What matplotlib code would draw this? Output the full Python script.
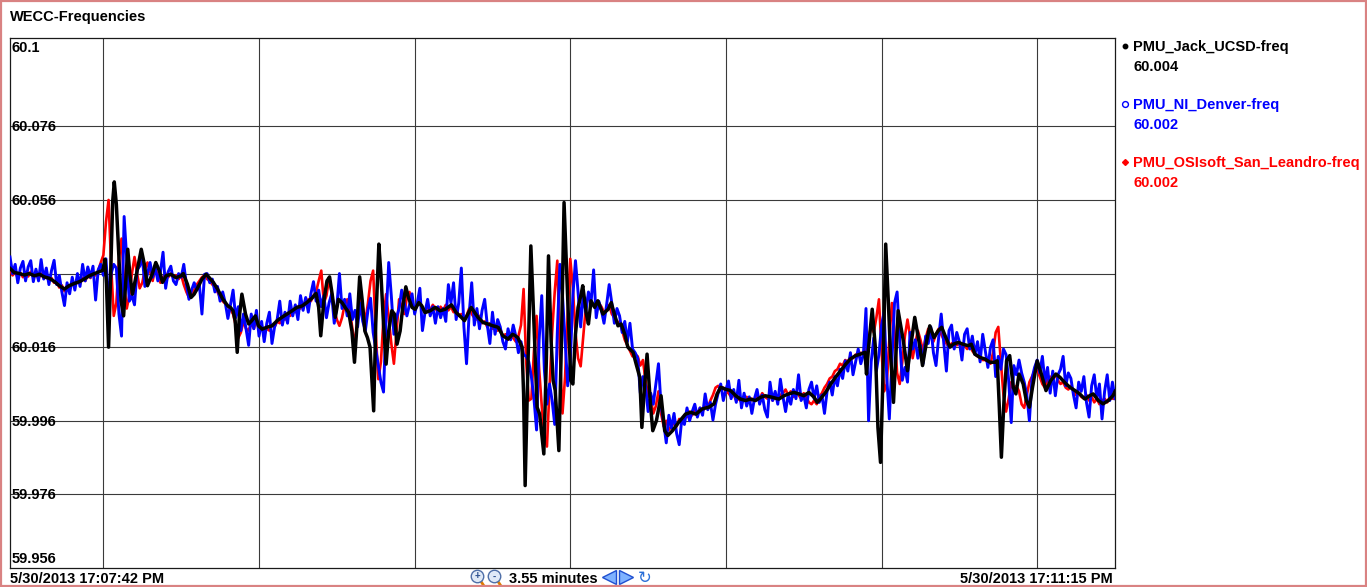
import numpy as np
import matplotlib
matplotlib.use("Agg")
import matplotlib.pyplot as plt
from matplotlib.patches import Rectangle
from matplotlib.transforms import blended_transform_factory

plt.rcParams['font.family'] = ['Liberation Sans', 'DejaVu Sans']

# ---------------------------------------------------------------------------
# Data: seconds after 17:07:42, frequency deviation from 60 Hz in mHz
# ---------------------------------------------------------------------------
T_START = "5/30/2013 17:07:42 PM"
T_END = "5/30/2013 17:11:15 PM"
SPAN_S = 213.0
SPAN_LABEL = "3.55 minutes"
TITLE = "WECC-Frequencies"

series_names = ["PMU_Jack_UCSD-freq", "PMU_NI_Denver-freq", "PMU_OSIsoft_San_Leandro-freq"]
series_colors = ["#000000", "#0000ff", "#ff0000"]

y_ticks = [60.1, 60.076, 60.056, 60.016, 59.996, 59.976, 59.956]
y_grid = [60.076, 60.056, 60.036, 60.016, 59.996, 59.976]
x_grid_s = [18, 48, 78, 108, 138, 168, 198]
y_min, y_max = 59.956, 60.1

# PMU_Jack_UCSD (time s, deviation mHz)
jack = [
    (0.0, 37.4), (0.8, 36.3), (1.8, 36.0), (2.8, 35.6), (3.7, 36.0), (4.7, 35.4), (5.7, 35.8),
    (6.6, 35.1), (7.6, 34.7), (8.6, 33.8), (9.5, 32.7), (10.5, 31.8), (11.4, 32.7), (12.4, 33.3),
    (13.4, 33.8), (14.3, 34.5), (15.3, 35.4), (16.3, 36.0), (17.2, 36.5), (17.9, 36.9), (18.3, 39.9),
    (18.6, 33.1), (19.0, 16.0), (19.4, 35.8), (19.8, 55.7), (20.1, 60.9), (20.5, 54.8), (21.0, 40.3),
    (21.4, 28.6), (21.9, 24.5), (22.2, 31.3), (22.7, 42.6), (23.1, 35.8), (23.6, 30.4), (24.5, 36.7),
    (25.3, 42.6), (25.9, 38.5), (26.5, 32.7), (27.4, 35.8), (28.1, 39.0), (28.8, 36.7), (29.4, 33.6),
    (30.1, 35.4), (31.0, 35.8), (32.0, 34.9), (33.0, 35.4), (33.4, 36.0), (34.2, 33.1), (34.9, 29.5),
    (35.5, 30.4), (36.2, 32.2), (37.0, 34.5), (37.8, 35.8), (38.4, 34.9), (39.2, 33.6), (40.0, 31.8),
    (41.0, 29.1), (42.0, 27.2), (42.5, 26.8),
    (43.0, 25.9), (43.4, 23.2), (43.8, 14.6), (44.2, 24.1), (44.7, 30.4), (45.4, 25.0), (46.0, 22.3),
    (46.6, 23.2), (47.3, 24.5), (47.9, 21.8), (48.6, 20.9), (49.5, 21.4), (50.5, 21.8), (51.5, 23.2),
    (52.4, 24.1), (53.4, 25.0), (54.4, 25.9), (55.3, 26.8), (56.3, 27.2), (57.2, 28.1), (58.2, 29.3),
    (59.0, 30.6), (59.5, 26.8), (59.9, 19.1), (60.5, 28.6), (61.1, 34.0), (61.6, 35.1), (62.1, 30.4),
    (62.7, 24.1), (63.3, 29.0), (64.0, 28.1), (64.6, 26.8), (65.3, 25.4), (65.9, 20.4), (66.4, 11.9),
    (66.9, 22.3), (67.4, 35.1), (67.9, 28.6), (68.4, 20.4), (68.9, 18.6), (69.4, 16.0), (70.1, -1.3),
    (70.5, 22.3), (71.1, 44.0), (71.5, 35.8), (72.0, 22.3), (72.5, 11.4), (73.0, 20.4), (73.6, 25.9),
    (74.1, 25.0), (74.6, 16.8), (75.2, 20.4), (75.7, 26.8), (76.3, 32.4), (76.8, 29.5), (77.5, 26.8),
    (78.1, 26.3), (78.8, 28.1), (79.4, 27.2), (80.0, 25.4), (81.0, 25.9), (82.0, 26.8), (82.9, 25.9),
    (83.9, 26.3), (85.1, 27.5),
    (86.0, 25.4), (87.0, 24.1), (87.6, 23.2), (88.9, 26.8), (90.2, 24.1), (91.2, 22.7), (92.1, 22.3),
    (93.1, 21.8), (94.1, 21.4), (95.0, 19.1), (96.0, 18.2), (96.9, 19.5), (97.9, 18.6), (98.7, 16.0),
    (99.0, 3.3), (99.3, -21.6), (99.8, 8.7), (100.4, 43.5), (101.0, 22.3), (101.6, -0.3), (102.1, -2.2),
    (102.9, -13.0), (103.4, 13.2), (103.8, 40.8), (104.3, 17.7), (104.7, 6.9), (105.1, 4.2),
    (105.8, -12.1), (106.3, 17.7), (106.8, 55.3), (107.2, 40.3), (107.6, 25.0), (108.1, 6.9),
    (108.5, 6.0), (109.0, 19.5), (109.5, 26.8), (110.1, 30.4), (110.4, 32.7), (111.1, 25.0),
    (111.5, 22.3), (112.0, 28.6), (112.7, 26.8), (113.3, 28.6), (114.3, 25.0), (115.3, 26.3),
    (115.9, 28.1), (116.5, 25.0), (117.2, 21.8), (117.8, 22.3), (118.5, 19.5), (119.1, 16.0),
    (120.1, 14.6), (120.7, 11.4), (121.4, 7.8), (121.8, -5.8), (122.3, 5.1), (122.8, 14.1),
    (123.5, -0.3), (123.9, -6.7), (124.6, -4.0), (125.5, 2.8), (126.2, -6.7), (126.8, -8.0),
    (127.7, -6.7),
    (128.9, -4.4), (130.2, -2.2), (131.2, -1.7), (132.2, -2.2), (133.4, -0.8), (134.7, -0.3),
    (135.7, 0.6), (136.3, 3.3), (137.0, 5.1), (137.9, 4.6), (138.9, 4.2), (139.9, 2.8), (140.8, 1.9),
    (141.8, 1.5), (142.7, 1.9), (143.7, 1.5), (144.7, 2.4), (145.6, 2.8), (146.9, 2.4), (148.2, 1.9),
    (149.2, 2.8), (150.1, 3.3), (151.1, 3.7), (152.1, 3.3), (153.0, 2.8), (154.0, 3.7), (155.0, 2.4),
    (155.6, 1.0), (156.2, 1.9), (157.2, 3.7), (158.2, 6.0), (159.1, 7.8), (160.1, 9.6), (161.1, 11.4),
    (162.0, 12.8), (163.0, 13.7), (163.9, 14.1), (164.8, 14.6), (165.1, 8.7), (165.5, 16.0),
    (166.2, 26.3), (166.8, 16.0), (167.3, -5.8), (167.8, -15.3), (168.2, 4.2), (168.8, 44.0),
    (169.3, 28.6), (169.7, 15.0), (170.3, 1.0),
    (171.2, 25.9), (172.2, 17.7), (173.0, 9.6), (173.6, 16.0), (174.4, 24.1), (175.3, 16.8),
    (175.9, 11.0), (176.7, 17.7), (177.3, 21.8), (178.1, 18.6), (178.9, 20.4), (179.6, 21.4),
    (180.4, 18.6), (181.2, 16.0), (181.8, 16.8), (182.8, 17.3), (183.7, 16.8), (184.7, 16.4),
    (185.3, 16.8), (186.0, 14.1), (187.0, 13.2), (187.9, 12.8), (188.9, 11.9), (189.8, 11.9),
    (190.3, 12.3), (190.7, -0.3), (191.1, -13.9), (191.6, 1.5), (192.1, 12.3), (192.7, 13.7),
    (193.4, 5.1), (193.9, 3.3), (194.5, 8.7), (195.3, 6.0), (195.9, 1.5), (196.5, -0.3), (197.1, 5.1),
    (198.0, 12.3), (198.8, 8.7), (199.7, 4.2), (200.6, 6.9), (201.6, 8.7), (202.4, 7.8), (203.3, 6.4),
    (204.3, 5.1), (205.3, 4.2), (206.2, 3.3), (207.2, 1.9), (208.1, 2.8), (208.8, 3.3), (209.8, 1.5),
    (210.7, 0.6), (211.7, 1.5), (212.6, 2.8), (213.0, 4.0),
]

# PMU_NI_Denver, one sample every 0.5 s (mHz)
denver = [
    40.5, 36.0, 38.5, 33.5, 37.5, 39.3, 34.0, 37.8, 39.5, 33.8,
    37.2, 34.0, 39.8, 34.5, 37.5, 33.0, 36.8, 39.6, 33.0, 35.5,
    31.0, 27.3, 33.5, 30.5, 35.0, 31.5, 36.0, 32.5, 38.5, 34.0,
    37.8, 35.0, 38.0, 28.8, 37.0, 38.5, 35.5, 40.0, 29.0, 36.0,
    38.5, 37.5, 25.0, 19.0, 51.5, 40.0, 28.5, 30.0, 27.5, 37.0,
    38.0, 40.5, 32.5, 36.0, 39.0, 35.0, 37.5, 34.0, 36.5, 41.8,
    32.0, 36.5, 38.0, 34.0, 33.0, 36.0, 35.0, 38.5, 33.0, 29.0,
    31.5, 33.5, 31.5, 33.0, 25.0, 35.8, 36.0, 33.5, 34.5, 31.0,
    32.5, 28.5, 31.0, 28.0, 23.8, 27.5,
    31.5, 24.0, 27.0, 20.5, 25.0, 21.0, 16.5, 25.0, 21.0, 26.0,
    19.0, 23.0, 17.5, 22.5, 25.5, 17.0, 21.5, 23.5, 28.5, 22.0,
    25.5, 22.5, 28.5, 24.5, 27.5, 23.5, 30.0, 26.0, 29.5, 25.5,
    30.5, 33.8, 28.5, 31.5, 27.0, 30.0, 24.0, 28.0, 30.5, 22.5,
    27.0, 36.0, 26.5, 29.0, 24.5, 30.5, 23.5, 26.0, 21.5, 28.0,
    23.0, 20.5, 26.0, 29.3, 20.0, 15.5, 11.0, 6.5, 3.8, 24.0,
    39.0, 30.0, 19.5, 24.0, 26.5, 31.5, 28.0, 24.5, 27.5, 30.5,
    25.0, 28.0, 32.0, 20.5, 25.5, 29.0, 24.5, 27.0, 22.5, 27.0,
    24.0, 26.5, 23.0, 33.0, 28.0,
    33.5, 23.5, 28.0, 37.5, 21.5, 11.5, 25.0, 33.5, 22.0, 26.5,
    21.0, 26.0, 29.0, 22.0, 17.0, 25.5, 19.5, 23.5, 21.5, 17.5,
    15.5, 21.0, 18.0, 22.0, 19.0, 14.5, 17.5, 14.0, 13.5, 12.0,
    8.0, 2.0, -6.5, 18.0, 30.0, 10.0, 0.5, 6.0, 1.5, -5.0,
    20.0, 38.5, 30.0, 18.0, 5.5, 12.0, 30.0, 39.5, 31.0, 21.5,
    30.5, 25.5, 31.0, 28.0, 37.0, 24.0, 28.5, 26.0, 22.5, 27.5,
    33.0, 28.0, 22.5, 26.5, 24.5, 20.0, 23.0, 17.5, 22.5, 15.5,
    14.5, 13.0, 3.5, 8.0, 5.5, -1.5, 3.5, 0.5, 6.0, 11.5,
    0.0, -4.5, -10.0, -2.5, -6.0,
    -2.0, -7.5, -10.5, -3.5, -5.0, -0.5, -4.0, -1.5, 0.5, -3.0,
    -0.5, -2.5, 3.3, -1.0, 1.0, -3.8, 0.5, 3.5, 6.0, 1.5,
    4.5, 6.8, 2.0, 4.5, 1.0, 7.0, -0.5, 3.5, 0.0, 2.5,
    -2.0, 2.0, 4.5, 0.5, 3.0, -1.0, -3.0, 6.5, 1.5, 4.0,
    0.5, 7.3, 2.5, -1.5, 3.0, 0.5, 4.5, 2.0, 8.5, 1.5,
    3.0, -0.5, 4.5, 6.5, 2.0, 5.5, 1.0, 3.0, -2.0, 4.0,
    6.5, 3.0, 8.0, 5.5, 10.0, 7.5, 12.3, 9.5, 14.5, 8.5,
    12.0, 15.5, 11.5, 14.0, 26.5, -4.0, 12.0, 18.5, 9.5, 14.0,
    22.0, 25.5, 8.0, -3.5, 12.0,
    28.0, 31.0, 18.0, 7.0, 10.5, 6.5, 20.0, 15.5, 18.0, 13.0,
    16.5, 11.5, 19.0, 17.0, 21.5, 14.5, 11.0, 18.5, 25.0, 17.0,
    9.5, 20.5, 22.0, 15.5, 20.0, 17.5, 12.5, 19.5, 21.0, 15.5,
    19.0, 14.0, 17.5, 12.0, 19.5, 15.0, 10.5, 16.0, 18.0, 8.0,
    13.5, 10.0, 15.5, 14.0, 7.0, -4.5, 11.0, 8.5, 12.5, 9.0,
    6.5, 3.0, -4.0, 7.5, 10.5, 12.5, 9.0, 13.5, 6.5, 10.5,
    3.5, 9.5, 2.8, 8.5, 10.0, 13.5, 5.5, 9.0, 7.5, 3.0,
    -0.5, 6.5, 4.0, 8.0, 1.0, -3.0, 5.5, 8.5, 2.0, 6.0,
    -3.5, 4.0, 8.5, 1.5, 6.5, 2.0,
]

# PMU_OSIsoft_San_Leandro, one sample every 0.5 s (mHz)
san_leandro = [
    37.0, 35.5, 36.5, 34.8, 36.2, 35.0, 36.4, 35.2, 36.5, 35.0,
    35.8, 34.6, 36.0, 34.8, 35.5, 34.0, 34.8, 33.5, 33.8, 32.2,
    32.8, 31.2, 32.5, 31.8, 33.5, 32.6, 34.0, 33.2, 34.8, 34.0,
    35.5, 34.8, 36.2, 35.5, 36.8, 39.0, 41.0, 50.0, 56.0, 38.0,
    24.5, 28.0, 40.0, 45.5, 33.0, 26.5, 30.0, 36.0, 40.5, 36.0,
    32.0, 33.5, 37.0, 39.0, 36.5, 34.0, 37.5, 35.5, 33.5, 35.0,
    36.0, 35.0, 36.0, 34.8, 35.5, 34.5, 35.6, 33.0, 31.0, 29.5,
    30.5, 31.5, 33.0, 34.0, 35.0, 35.5, 34.5, 34.0, 33.0, 32.5,
    31.0, 29.5, 28.5, 27.8, 27.0, 26.2,
    25.0, 22.0, 18.5, 20.0, 23.0, 21.0, 20.5, 22.5, 21.0, 23.5,
    20.5, 21.5, 20.0, 21.0, 20.5, 22.0, 21.5, 23.0, 22.5, 24.0,
    23.5, 25.0, 24.5, 26.0, 25.5, 27.0, 26.5, 28.0, 27.5, 29.0,
    28.5, 30.0, 31.0, 34.0, 36.8, 28.0, 30.0, 34.5, 31.0, 26.0,
    23.5, 21.8, 24.0, 27.5, 29.0, 26.0, 21.0, 16.5, 24.0, 30.5,
    27.0, 23.0, 28.0, 34.0, 36.8, 20.0, 7.3, 12.0, 24.0, 30.4,
    24.0, 17.0, 11.5, 20.0, 29.0, 27.0, 25.0, 29.5, 31.0, 28.0,
    26.0, 27.5, 28.5, 26.5, 25.5, 27.0, 26.0, 27.5, 26.5, 25.5,
    27.0, 26.0, 27.5, 26.0, 27.0,
    25.5, 26.5, 24.5, 25.0, 23.5, 24.5, 26.5, 25.0, 24.0, 23.5,
    24.5, 22.5, 23.0, 21.5, 22.5, 21.0, 22.0, 20.5, 21.0, 19.0,
    19.5, 18.0, 19.0, 18.5, 17.5, 19.0, 22.0, 31.8, 12.0, 1.5,
    2.0, 15.0, 24.5, 10.0, 0.0, -8.0, -11.0, 5.0, 20.0, 31.0,
    39.5, 14.0, -2.0, 8.0, 25.0, 40.0, 32.0, 20.0, 13.0, 10.8,
    19.0, 27.0, 30.0, 28.0, 27.5, 26.5, 28.0, 27.0, 25.5, 26.0,
    27.5, 25.0, 24.0, 22.5, 23.0, 20.5, 18.0, 16.5, 15.0, 13.5,
    14.0, 13.5, 11.0, 12.5, 7.0, 3.0, 2.0, -2.0, 0.0, 4.0,
    -2.0, -5.5, -4.0, -6.5, -5.5,
    -4.5, -5.5, -3.5, -4.5, -2.5, -3.0, -1.5, -2.5, -1.0, -2.0,
    -0.5, -1.5, 0.0, -0.5, 1.5, 3.0, 5.0, 5.5, 4.5, 5.0,
    4.0, 3.5, 2.5, 3.0, 1.5, 2.0, 1.0, 1.5, 2.5, 1.0,
    2.0, 1.5, 3.0, 2.0, 3.5, 2.5, 2.0, 3.0, 1.5, 2.5,
    1.5, 3.0, 3.5, 4.5, 3.0, 4.0, 2.5, 3.5, 3.0, 2.0,
    3.5, 2.5, 1.0, 0.5, 1.5, 0.5, 2.5, 3.5, 5.0, 6.0,
    7.5, 8.0, 9.5, 10.0, 11.5, 11.0, 12.5, 12.0, 13.5, 13.0,
    14.0, 13.5, 14.5, 14.0, 15.0, 18.0, 22.0, 20.0, 24.0, 29.0,
    15.0, 4.0, 6.0, 18.0, 28.0,
    20.0, 9.0, 6.0, 12.0, 19.0, 23.5, 19.0, 13.0, 17.0, 20.5,
    18.0, 15.0, 18.5, 21.0, 19.0, 17.5, 19.5, 21.0, 19.5, 18.0,
    17.0, 16.0, 17.0, 17.5, 16.5, 17.0, 16.0, 16.5, 15.5, 16.5,
    15.0, 14.0, 13.5, 13.0, 12.5, 12.5, 12.0, 11.5, 14.5, 20.0,
    21.5, 12.0, 3.0, -1.5, 2.0, 6.5, 4.0, 5.5, 4.0, 0.5,
    -0.5, 3.0, 6.5, 8.0, 9.5, 10.0, 8.0, 6.0, 5.0, 7.0,
    8.0, 7.5, 8.5, 7.0, 6.0, 6.5, 5.0, 4.5, 5.5, 4.0,
    3.0, 3.5, 2.5, 2.0, 3.0, 1.5, 2.5, 1.0, 2.0, 0.5,
    1.5, 2.0, 1.0, 2.5, 2.0, 2.0,
]

# ---------------------------------------------------------------------------
W, H = 1367, 587
fig = plt.figure(figsize=(W / 100, H / 100), dpi=100)
fig.patch.set_facecolor("white")

# plot frame: x 10..1115 px, y 38..568 px
ax = fig.add_axes([10 / W, (H - 568) / H, 1105 / W, 530 / H])
ax.set_xlim(0, SPAN_S)
ax.set_ylim(y_min, y_max)
ax.set_xticks([])
ax.set_yticks([])
for s in ax.spines.values():
    s.set_color("#1a1a1a")
    s.set_linewidth(0.9)

for g in y_grid:
    ax.axhline(g, color="#3a3a3a", lw=0.8, zorder=1)
for g in x_grid_s:
    ax.axvline(g, color="#3a3a3a", lw=0.8, zorder=1)

jt = np.array([p[0] for p in jack])
jf = 60.0 + np.array([p[1] for p in jack]) / 1000.0
dt = np.arange(len(denver)) * 0.5
df = 60.0 + np.array(denver) / 1000.0
st = np.arange(len(san_leandro)) * 0.5
sf = 60.0 + np.array(san_leandro) / 1000.0

ax.plot(st, sf, color=series_colors[2], lw=1.9, zorder=3, solid_joinstyle="round")
ax.plot(dt, df, color=series_colors[1], lw=2.1, zorder=4, solid_joinstyle="round")
ax.plot(jt, jf, color=series_colors[0], lw=2.5, zorder=5, solid_joinstyle="round")

# y labels drawn inside the frame
btf = blended_transform_factory(ax.transAxes, ax.transData)
lab_kw = dict(fontsize=10.5, fontweight="bold", color="black", transform=btf, zorder=2)
px_hz = (y_max - y_min) / 530.0
for v in y_ticks:
    txt = f"{v:g}"
    if v == y_max:
        ax.text(0.0018, v - 2.5 * px_hz, txt, va="top", ha="left", **lab_kw)
    elif v == y_min:
        ax.text(0.0018, v + 1.5 * px_hz, txt, va="bottom", ha="left", **lab_kw)
    else:
        ax.text(0.0018, v - 1.0 * px_hz, txt, va="center", ha="left", **lab_kw)

# overlay in pixel coordinates for title, legend and footer
ov = fig.add_axes([0, 0, 1, 1], facecolor="none")
ov.set_xlim(0, W)
ov.set_ylim(H, 0)
ov.axis("off")

ov.text(10, 21, TITLE, fontsize=10.5, fontweight="bold", va="baseline", ha="left")

last_vals = [jf[-1], df[-1], sf[-1]]
markers = [dict(marker="o", ms=3.2, mfc="black", mec="black"),
           dict(marker="o", ms=4.2, mfc="white", mec="#0000ff", mew=1.0),
           dict(marker="D", ms=3.0, mfc="#ff0000", mec="#ff0000")]
for i, (name, col, val, mk) in enumerate(zip(series_names, series_colors, last_vals, markers)):
    y0 = 51 + 58 * i
    ov.plot([1125], [y0 - 5], linestyle="none", **mk)
    ov.text(1133, y0, name, color=col, fontsize=10.5, fontweight="bold", va="baseline", ha="left")
    ov.text(1133, y0 + 20, f"{val:.3f}", color=col, fontsize=10.5, fontweight="bold",
            va="baseline", ha="left")

# footer
ov.text(10, 583, T_START, fontsize=10.5, fontweight="bold", va="baseline", ha="left")
ov.text(1113, 583, T_END, fontsize=10.5, fontweight="bold", va="baseline", ha="right")
ov.text(509, 583, SPAN_LABEL, fontsize=10.5, fontweight="bold", va="baseline", ha="left")

# zoom in / zoom out buttons
for cx, sign in [(477, "+"), (494, "-")]:
    ov.plot([cx + 3, cx + 7], [580, 586], color="#e07b00", lw=2.0, solid_capstyle="round")
    ov.plot([cx], [576], marker="o", ms=9, mfc="#dfe9f7", mec="#4f6fa8", mew=1.0)
    ov.text(cx, 576.5, sign, fontsize=7, fontweight="bold", color="#2b4f8f",
            ha="center", va="center")
# pan arrows and refresh
ov.plot([609], [577], marker="<", ms=10, mfc="#7fb2ff", mec="#1f4fd0", mew=1.0)
ov.plot([626], [577], marker=">", ms=10, mfc="#7fb2ff", mec="#1f4fd0", mew=1.0)
ov.text(645, 578, "\u21bb", fontsize=12, color="#2a6fd8", ha="center", va="center",
        family="DejaVu Sans")

# outer border
fig.patches.append(Rectangle((0.001, 0.001), 0.998, 0.997, transform=fig.transFigure,
                             fill=False, edgecolor="#d98282", lw=1.6))

fig.savefig("out.png", dpi=100, facecolor="white")
